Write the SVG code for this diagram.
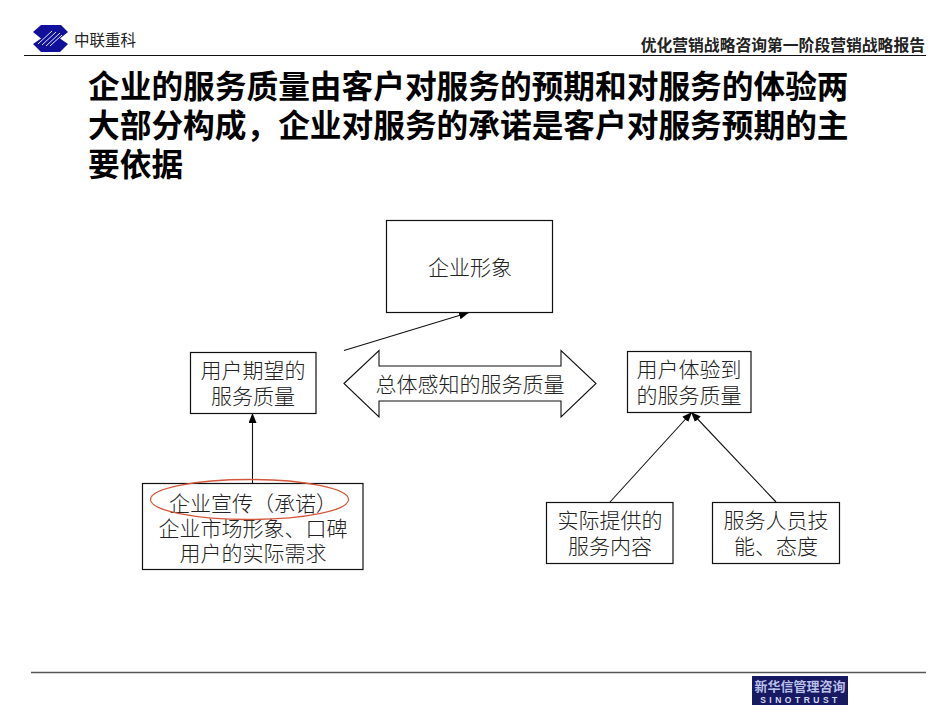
<svg xmlns="http://www.w3.org/2000/svg" width="950" height="713" viewBox="0 0 950 713">
<style>
.box{fill:#fff;stroke:#111;stroke-width:1.2}
.lbl{font-family:"Noto Sans CJK SC","Liberation Serif",serif;font-size:21px;font-weight:300;fill:#222;text-anchor:middle}
.title{font-family:"Noto Sans CJK SC","Liberation Sans",sans-serif;font-weight:700;font-size:31.700px;fill:#000}
.c{stroke:#111;stroke-width:1.1;fill:none;marker-end:url(#a)}
</style>
<defs><marker id="a" markerUnits="userSpaceOnUse" markerWidth="12" markerHeight="10" refX="10" refY="4" orient="auto"><path d="M0 0L10 4L0 8Z" fill="#000"/></marker></defs>
<rect width="950" height="713" fill="#fff"/>
<g id="logo">
<path d="M41 25H61L68 32L60 38.500L68 44L60 52H41L33 44L41 38.500L33 32Z" fill="#10109a"/>
<path d="M38 44L52 31M42 45L56 32M46 46L60 33M50 46L62 35" stroke="#dfe3f5" stroke-width="1"/>
<text x="74" y="46" style="font-family:'Noto Sans CJK SC',sans-serif;font-size:15.500px;fill:#222">中联重科</text>
</g>
<text x="925" y="50.500" text-anchor="end" style="font-family:'Noto Sans CJK SC',sans-serif;font-weight:700;font-size:15.800px;fill:#222">优化营销战略咨询第一阶段营销战略报告</text>
<line x1="24" y1="55.500" x2="926" y2="55.500" stroke="#111" stroke-width="1.2"/>
<g id="heading">
<text class="title" x="88" y="98">企业的服务质量由客户对服务的预期和对服务的体验两</text>
<text class="title" x="88" y="137">大部分构成，企业对服务的承诺是客户对服务预期的主</text>
<text class="title" x="88" y="176">要依据</text>
</g>
<g id="connectors">
<path class="c" d="M344 350.500L469 312.500"/>
<path class="c" d="M252.500 484V413"/>
<path class="c" d="M610 502L692 412"/>
<path class="c" d="M776 502L691 412"/>
</g>
<g id="n1"><rect class="box" x="386.500" y="220.500" width="166" height="92"/><text class="lbl" x="470" y="275">企业形象</text></g>
<g id="n2"><rect class="box" x="190.500" y="352.500" width="125.500" height="61"/><text class="lbl" y="378"><tspan x="253">用户期望的</tspan><tspan x="253" dy="26">服务质量</tspan></text></g>
<g id="n3"><path d="M344 383.500L379 350.500V366H561V350.500L596 383.500L561 417V401H379V417Z" fill="#fff" stroke="#111" stroke-width="1.100"/><text class="lbl" x="470" y="392">总体感知的服务质量</text></g>
<g id="n4"><rect class="box" x="627.500" y="351.500" width="123.500" height="61"/><text class="lbl" y="377"><tspan x="689">用户体验到</tspan><tspan x="689" dy="26">的服务质量</tspan></text></g>
<g id="n5"><rect class="box" x="142.500" y="483.500" width="220.500" height="86"/><text class="lbl" y="510.500"><tspan x="253">企业宣传（承诺）</tspan><tspan x="253" dy="25">企业市场形象、口碑</tspan><tspan x="253" dy="25">用户的实际需求</tspan></text><ellipse cx="249.500" cy="499.500" rx="99" ry="20" fill="none" stroke="#d2583c" stroke-width="1.300"/></g>
<g id="n6"><rect class="box" x="546.500" y="502.500" width="126.500" height="61"/><text class="lbl" y="528"><tspan x="610">实际提供的</tspan><tspan x="610" dy="26">服务内容</tspan></text></g>
<g id="n7"><rect class="box" x="712.500" y="502.500" width="127" height="61"/><text class="lbl" y="528"><tspan x="776">服务人员技</tspan><tspan x="776" dy="26">能、态度</tspan></text></g>
<line x1="31" y1="672.500" x2="926" y2="672.500" stroke="#555" stroke-width="1.400"/>
<g id="badge"><rect x="752" y="676" width="96" height="29" fill="#171a63"/>
<text x="800" y="691" text-anchor="middle" style="font-family:'Noto Sans CJK SC',sans-serif;font-weight:700;font-size:13px;fill:#b9bfe6">新华信管理咨询</text>
<text x="800.500" y="703" text-anchor="middle" style="font-family:'Liberation Sans',sans-serif;font-weight:700;font-size:8.500px;letter-spacing:3.500px;fill:#d5d8f0">SINOTRUST</text></g>
</svg>
